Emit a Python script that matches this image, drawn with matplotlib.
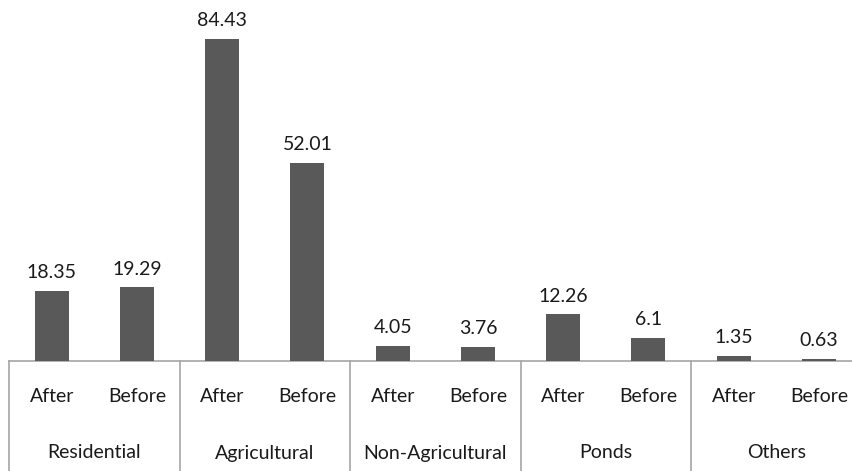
import matplotlib.pyplot as plt

categories = ['Residential', 'Agricultural', 'Non-Agricultural', 'Ponds', 'Others']
periods = ['After', 'Before']
after_values = [18.35, 84.43, 4.05, 12.26, 1.35]
before_values = [19.29, 52.01, 3.76, 6.1, 0.63]
after_labels = ['18.35', '84.43', '4.05', '12.26', '1.35']
before_labels = ['19.29', '52.01', '3.76', '6.1', '0.63']

plt.rcParams['font.family'] = ['Lato', 'DejaVu Sans']

W, H = 852, 471
fig = plt.figure(figsize=(W / 100, H / 100), dpi=100)
ax = fig.add_axes([9 / W, 110 / H, 852.5 / W, 361 / H])

bar_color = '#595959'
line_color = '#a6a6a6'
text_color = '#1a1a1a'
fs = 14
n = len(categories)
xs, heights, labels, ticks = [], [], [], []
for i in range(n):
    for j, (vals, labs) in enumerate([(after_values, after_labels), (before_values, before_labels)]):
        x = 2 * i + j + 0.5
        xs.append(x)
        heights.append(vals[i])
        labels.append(labs[i])
        ticks.append(periods[j])

bars = ax.bar(xs, heights, width=0.4, color=bar_color, zorder=3)
for b, lab in zip(bars, labels):
    ax.annotate(lab, (b.get_x() + b.get_width() / 2, b.get_height()),
                xytext=(0, 7), textcoords='offset points',
                ha='center', va='bottom', fontsize=fs, color=text_color)

ax.set_xlim(0, 2 * n)
ax.set_ylim(0, 94.65)
for s in ['top', 'right', 'left']:
    ax.spines[s].set_visible(False)
ax.spines['bottom'].set_color(line_color)
ax.spines['bottom'].set_linewidth(1.2)
ax.set_yticks([])
ax.set_xticks([])

trans = ax.get_xaxis_transform()
depth = 110 / 361
for k in range(n + 1):
    ax.plot([2 * k, 2 * k], [0, -depth], transform=trans, color=line_color,
            lw=1.2, clip_on=False)
for x, t in zip(xs, ticks):
    ax.text(x, -36 / 361, t, transform=trans, ha='center', va='center',
            fontsize=fs, color=text_color)
for i, c in enumerate(categories):
    ax.text(2 * i + 1, -92 / 361, c, transform=trans, ha='center', va='center',
            fontsize=fs, color=text_color)

fig.savefig('out.png', dpi=100)
